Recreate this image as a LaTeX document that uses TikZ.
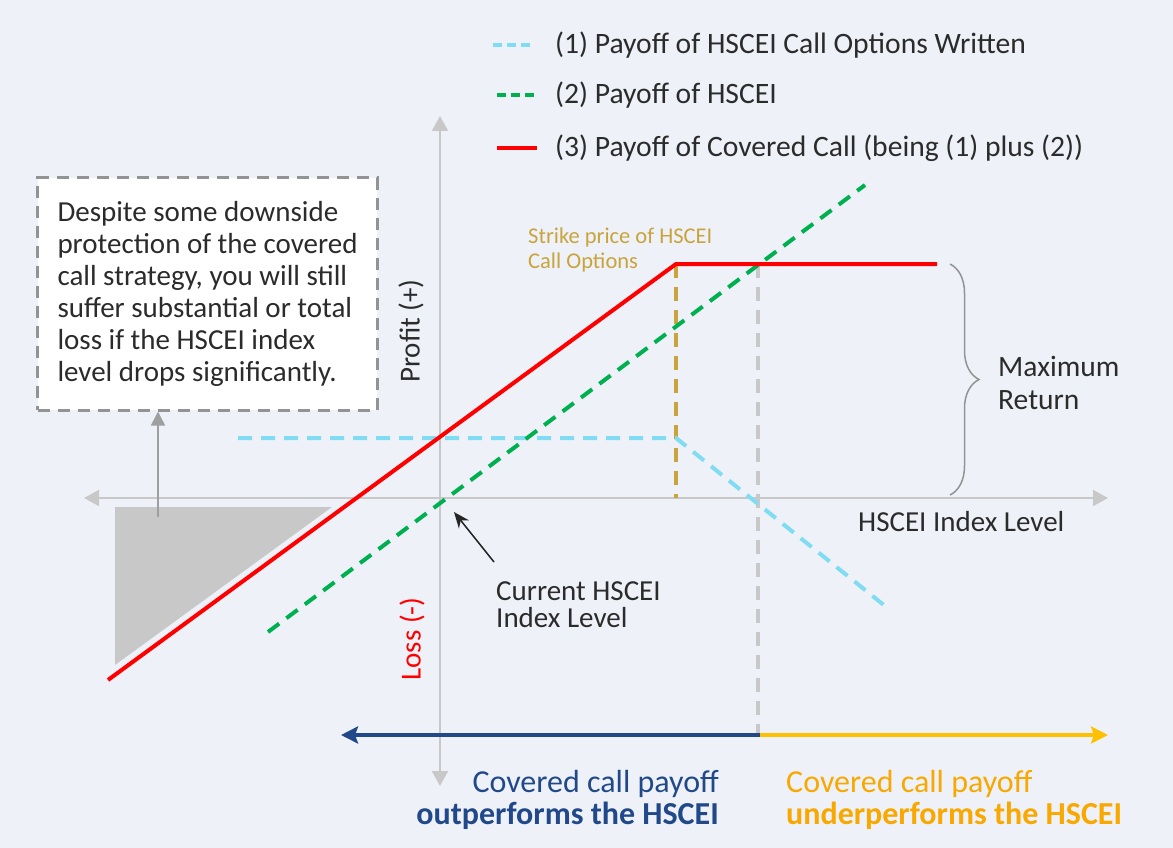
\documentclass[tikz,border=0pt]{standalone}
\usepackage{fontspec}
\setmainfont{Carlito}
\usetikzlibrary{arrows.meta,decorations.pathreplacing}
\definecolor{bgpale}{HTML}{EEF2F8}
\definecolor{txtgray}{HTML}{2B2B2B}
\definecolor{axisgray}{HTML}{C8C8C8}
\definecolor{lossgray}{HTML}{C8C8C8}
\definecolor{callcyan}{HTML}{7FDCF2}
\definecolor{indexgreen}{HTML}{00B050}
\definecolor{payred}{HTML}{FF0000}
\definecolor{strikegold}{HTML}{C9A43C}
\definecolor{outblue}{HTML}{21498A}
\definecolor{undergold}{HTML}{FFC000}
\definecolor{undertext}{HTML}{F8A800}
\tikzset{
  lbl/.style={inner sep=0pt, text=txtgray, font=\fontsize{29}{32}\selectfont},
  axis/.style={axisgray, line width=2pt, {Triangle[length=15pt,width=16pt]}-{Triangle[length=15pt,width=16pt]}},
  dashline/.style={line width=4pt, dash pattern=on 14pt off 9pt},
  payline/.style={line width=4pt},
  bigarrow/.style={line width=4pt, -{Stealth[length=17pt,width=17pt,inset=3pt]}},
  brace/.style={decorate, decoration={brace, amplitude=29pt}, draw=gray!85, line width=1.5pt},
}
\newcommand{\legendline}[5]{%
 \draw[#3] (#4,#2) -- ++(40,0);
 \node (#1) [lbl, font=\fontsize{29.6}{32}\selectfont, anchor=west] at (555,#2) {#5};
}

\begin{document}
\begin{tikzpicture}[x=1pt,y=-1pt]
 \useasboundingbox[fill=bgpale] (0,0) rectangle (1173,848);
 % axes
 \coordinate (O) at (440,498);
 \coordinate (xl) at (84,498);
 \coordinate (xr) at (1108,498);
 \coordinate (yt) at (440,116);
 \coordinate (yb) at (440,786);
 \draw[axis] (xl) -- (xr);
 \draw[axis] (yb) -- (yt);
 % loss area below the axis
 \fill[lossgray] (115,507) -- (332,507) -- (115,665) -- cycle;
 % strike and breakeven
 \coordinate (K) at (676,264);
 \coordinate (Kx) at (676,498);
 \coordinate (B) at (758,264);
 \coordinate (Bb) at (758,733);
 \draw[dashline, strikegold] (K) -- (Kx);
 \draw[dashline, axisgray] (B) -- (Bb);
 % payoffs
 \draw[dashline, callcyan] (238,438) -- (676,438) -- (885,606);
 \draw[dashline, indexgreen] (268,632) -- (865,185);
 \draw[payline, payred] (108,680) -- (K) -- (937,264);
 % legend
 \legendline{leg1}{45}{dashline, callcyan, dash pattern=on 9pt off 5pt}{493}{(1) Payoff of HSCEI Call Options Written}
 \legendline{leg2}{95}{dashline, indexgreen, dash pattern=on 9pt off 5pt}{497}{(2) Payoff of HSCEI}
 \legendline{leg3}{148}{payline, payred}{497}{(3) Payoff of Covered Call (being (1) plus (2))}
 % note box
 \node (note) [lbl, align=left, draw=gray!85, fill=white, line width=3pt, dash pattern=on 12pt off 8pt,
   inner xsep=20pt, minimum height=232pt] at (207.5,294)
   {Despite some downside\\protection of the covered\\call strategy, you will still\\suffer substantial or total\\loss if the HSCEI index\\level drops significantly.};
 \coordinate (lossmark) at (158,517);
 \draw[gray!75, line width=1.5pt, -{Triangle[length=14pt,width=14pt]}] (lossmark) -- (lossmark |- note.south);
 % labels
 \node (strike) [lbl, text=strikegold, align=left, font=\fontsize{22.5}{25}\selectfont, anchor=west] at (528,250) {Strike price of HSCEI\\Call Options};
 \node (profit) [lbl, rotate=90] at (411,331) {Profit (+)};
 \node (loss) [lbl, rotate=90, text=payred] at (412,639) {Loss (-)};
 \node (axlbl) [lbl, anchor=west] at (858,522) {HSCEI Index Level};
 \draw[brace] (950,264) -- (950,495);
 \node (maxret) [lbl, align=left, font=\fontsize{29.5}{33}\selectfont, anchor=west] at (998,383) {Maximum\\Return};
 \node (cur) [lbl, align=left, font=\fontsize{29}{27}\selectfont, anchor=west] at (496,605) {Current HSCEI\\Index Level};
 \coordinate (curtail) at (494,562);
 \coordinate (curtip) at (454,512);
 \draw[black!85, line width=1.5pt, -{Stealth[length=16pt,width=13pt]}] (curtail) -- (curtip);
 % bottom comparison
 \coordinate (split) at (760,735);
 \coordinate (outend) at (341,735);
 \coordinate (underend) at (1108,735);
 \draw[bigarrow, outblue] (split) -- (outend);
 \draw[bigarrow, undergold] (split) -- (underend);
 \node (outtxt) [lbl, text=outblue, align=right, font=\fontsize{32}{32}\selectfont, anchor=east] at (719,800) {Covered call payoff\\\textbf{outperforms the HSCEI}};
 \node (undertxt) [lbl, text=undertext, align=left, font=\fontsize{32}{32}\selectfont, anchor=west] at (786,800) {Covered call payoff\\\textbf{underperforms the HSCEI}};
\end{tikzpicture}
\end{document}
